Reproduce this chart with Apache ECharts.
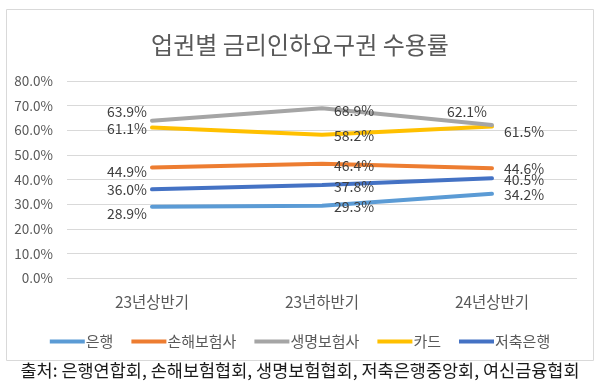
<!DOCTYPE html>
<html><head><meta charset="utf-8">
<script src="https://cdn.jsdelivr.net/npm/echarts@6/dist/echarts.min.js"></script>
<style>html,body{margin:0;padding:0;background:#fff}#c{width:600px;height:385px}</style>
</head><body><div id="c"></div>
<script>
var categories = ['23년상반기', '23년하반기', '24년상반기'];
var seriesNames = ['은행', '손해보험사', '생명보험사', '카드', '저축은행'];
var bank = [28.9, 29.3, 34.2];
var nonLife = [44.9, 46.4, 44.6];
var life = [63.9, 68.9, 62.1];
var card = [61.1, 58.2, 61.5];
var savings = [36.0, 37.8, 40.5];
var yTicks = [0, 10, 20, 30, 40, 50, 60, 70, 80];
var titleText = '업권별 금리인하요구권 수용률';
var sourceText = '출처: 은행연합회, 손해보험협회, 생명보험협회, 저축은행중앙회, 여신금융협회';

var colors = ['#5B9BD5', '#ED7D31', '#A5A5A5', '#FFC000', '#4472C4'];
var values = [bank, nonLife, life, card, savings];
// label vertical nudges per series / point
var dys = [[7, 1, 1], [4, 2, 1], [-9, 2, -13], [1, 1, 5], [0, 2, 1]];
var FONT = '"Noto Sans CJK KR", "Noto Sans", sans-serif';

function mkLabel(si, pi) {
  var left = (pi === 0) || (si === 2 && pi === 2);
  return {
    show: true,
    position: left ? 'left' : 'right',
    distance: left ? 5 : 12,
    offset: [0, dys[si][pi]],
    formatter: function (p) { return p.value.toFixed(1) + '%'; },
    color: '#404040',
    fontSize: 14,
    fontFamily: FONT
  };
}

var series = values.map(function (arr, si) {
  return {
    name: seriesNames[si],
    type: 'line',
    data: arr.map(function (v, pi) { return { value: v, label: mkLabel(si, pi) }; }),
    symbol: 'circle',
    symbolSize: 0,
    showSymbol: true,
    lineStyle: { width: 4, color: colors[si], cap: 'round' },
    itemStyle: { color: colors[si] },
    z: si === 2 ? 3 : 2
  };
});

var chart = echarts.init(document.getElementById('c'), null, { renderer: 'canvas' });
chart.setOption({
  animation: false,
  color: colors,
  title: {
    text: titleText, left: 'center', top: 28,
    textStyle: { fontSize: 24, fontWeight: 'normal', color: '#595959', fontFamily: FONT }
  },
  graphic: [
    { type: 'rect', shape: { x: 6.5, y: 9.5, width: 587, height: 351 },
      style: { fill: 'none', stroke: '#D9D9D9', lineWidth: 1 }, silent: true, z: -1 },
    { type: 'text', left: 'center', top: 362,
      style: { text: sourceText, fontSize: 17.5, fill: '#1a1a1a', fontFamily: FONT } }
  ],
  legend: {
    data: seriesNames, left: 'center', top: 329,
    icon: 'rect', itemWidth: 35, itemHeight: 4, itemGap: 18,
    textStyle: { fontSize: 15, color: '#595959', fontFamily: FONT, padding: [0, 0, 0, -4] }
  },
  grid: { left: 67, right: 23, top: 81, bottom: 107, containLabel: false },
  xAxis: {
    type: 'category', data: categories, boundaryGap: true,
    axisLine: { show: false }, axisTick: { show: false },
    axisLabel: { color: '#595959', fontSize: 15.5, margin: 16, fontFamily: FONT }
  },
  yAxis: {
    type: 'value', min: yTicks[0], max: yTicks[yTicks.length - 1], interval: 10,
    axisLine: { show: false }, axisTick: { show: false },
    splitLine: { lineStyle: { color: '#D9D9D9', width: 1 } },
    axisLabel: { color: '#595959', fontSize: 13.5, margin: 14, fontFamily: FONT,
      formatter: function (v) { return v.toFixed(1) + '%'; } }
  },
  series: series
});
</script></body></html>
